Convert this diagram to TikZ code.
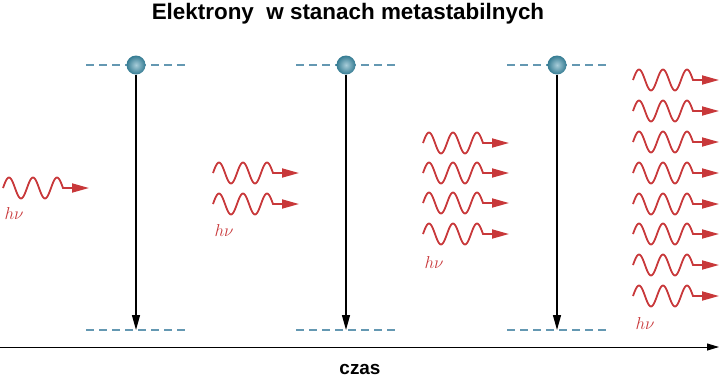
\documentclass[tikz,border=0pt]{standalone}
\usepackage{fontspec}
\setsansfont{Liberation Sans}
\usetikzlibrary{arrows.meta}
\definecolor{photonred}{RGB}{200,56,58}
\definecolor{levelblue}{RGB}{100,152,178}
\definecolor{atomblue}{RGB}{62,145,172}

\begin{document}
\begin{tikzpicture}[x=1bp, y=-1bp,
		level/.style={levelblue, line width=1.5bp, dash pattern=on 8bp off 5bp},
		atom/.style={circle, minimum size=19bp, inner sep=0pt, shade, inner color=atomblue!45!white, outer color=atomblue!85!black},
		decay/.style={line width=1.3bp, -{Triangle[length=15bp,width=8bp]}},
		hnu/.style={photonred, anchor=west, font=\fontsize{18}{20}\selectfont},
		photon/.pic={\draw[photonred, line width=1.8bp, -{Triangle[length=17bp,width=9bp]}] plot[domain=0:60, samples=61, smooth] (\x,{-10.5*sin(15*\x)}) -- (86,0);}]
			\useasboundingbox (0,0) rectangle (719,383);
			\node[font=\sffamily\bfseries\fontsize{22.5}{26}\selectfont](title) at (348,14){Elektrony\ \ w stanach metastabilnych};
			% poziomy i atomy
			\draw[level] (86,65) -- (186,65);
			\draw[level] (296,65) -- (396,65);
			\draw[level] (507,65) -- (607,65);
			\node[atom](atom1) at (136,65){};
			\node[atom](atom2) at (346,65){};
			\node[atom](atom3) at (557,65){};
			\draw[level] (86,330) -- coordinate (ground1) (186,330);
			\draw[level] (296,330) -- coordinate (ground2) (396,330);
			\draw[level] (507,330) -- coordinate (ground3) (607,330);
			\draw[decay] (atom1) -- (ground1);
			\draw[decay] (atom2) -- (ground2);
			\draw[decay] (atom3) -- (ground3);
			% fotony
			\pic at (3,188) {photon};
			\node[hnu](hnu1) at (1,214){$h\nu$};
			\pic at (213,173) {photon};
			\pic at (213,204) {photon};
			\node[hnu](hnu2) at (211,231){$h\nu$};
			\pic at (423,143) {photon};
			\pic at (423,173) {photon};
			\pic at (423,203) {photon};
			\pic at (423,234) {photon};
			\node[hnu](hnu3) at (421,263){$h\nu$};
			\pic at (633,80) {photon};
			\pic at (633,111) {photon};
			\pic at (633,142) {photon};
			\pic at (633,173) {photon};
			\pic at (633,204) {photon};
			\pic at (633,234) {photon};
			\pic at (633,265) {photon};
			\pic at (633,296) {photon};
			\node[hnu](hnu4) at (632,324){$h\nu$};
			% oś czasu
			\coordinate (t0) at (0,347);
			\coordinate (t1) at (719,347);
			\draw[line width=1bp, -{Triangle[length=12bp,width=7bp]}] (t0) -- (t1);
			\node[font=\sffamily\bfseries\fontsize{19}{22}\selectfont](czas) at (360,369){czas};
			\end{tikzpicture}
\end{document}
